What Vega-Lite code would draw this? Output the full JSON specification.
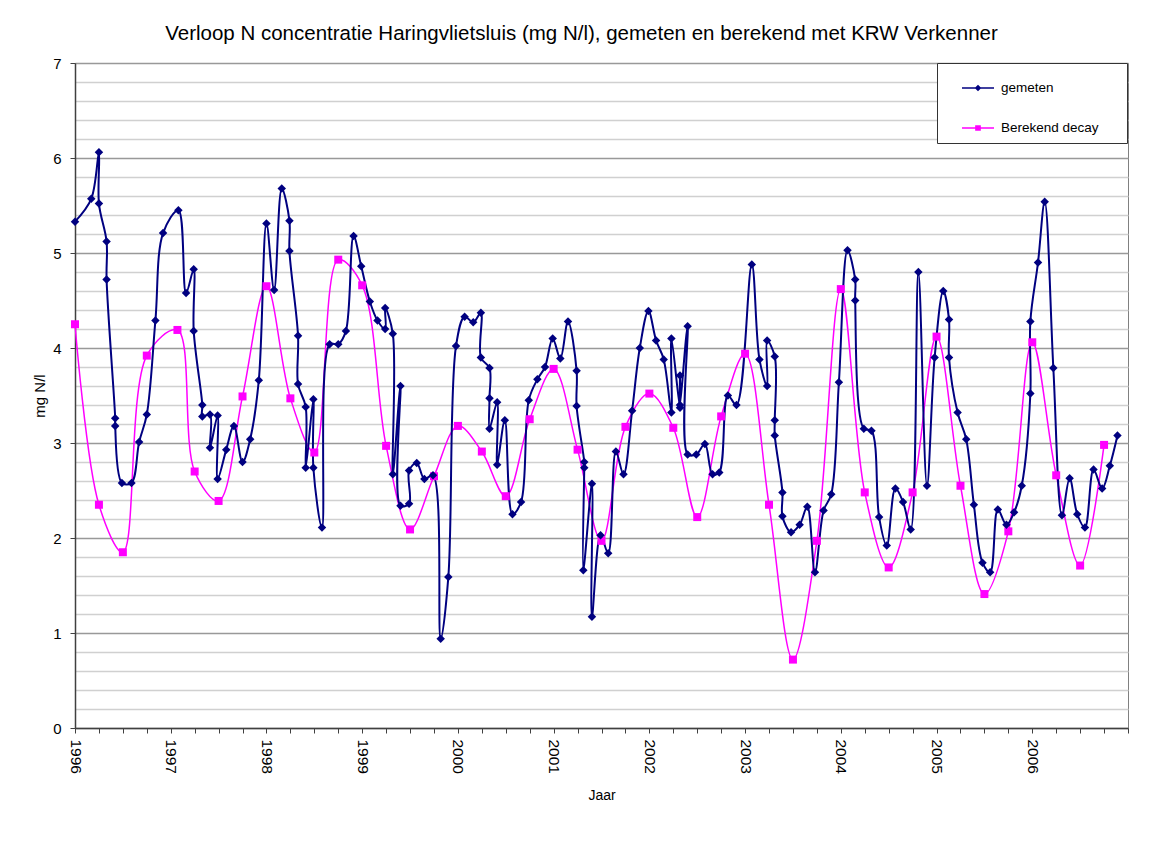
{
  "$schema": "https://vega.github.io/schema/vega-lite/v6.json",
  "width": 1053,
  "height": 665,
  "autosize": "none",
  "padding": {"left": 75, "top": 63, "right": 27, "bottom": 119},
  "background": "white",
  "config": {
    "font": "Liberation Sans",
    "view": {"stroke": "#808080", "strokeWidth": 1}
  },
  "title": {
    "text": "Verloop N concentratie Haringvlietsluis (mg N/l), gemeten en berekend met KRW Verkenner",
    "fontSize": 20.5,
    "fontWeight": "normal",
    "color": "#000000",
    "anchor": "middle",
    "offset": 12,
    "dx": -20
  },
  "data": {
    "values": [
      {"s": "gemeten", "i": 0, "t": 1996.00, "v": 5.33},
      {"s": "gemeten", "i": 1, "t": 1996.17, "v": 5.57},
      {"s": "gemeten", "i": 2, "t": 1996.25, "v": 6.06},
      {"s": "gemeten", "i": 3, "t": 1996.25, "v": 5.52},
      {"s": "gemeten", "i": 4, "t": 1996.33, "v": 5.12},
      {"s": "gemeten", "i": 5, "t": 1996.33, "v": 4.72},
      {"s": "gemeten", "i": 6, "t": 1996.42, "v": 3.26},
      {"s": "gemeten", "i": 7, "t": 1996.42, "v": 3.18},
      {"s": "gemeten", "i": 8, "t": 1996.49, "v": 2.58},
      {"s": "gemeten", "i": 9, "t": 1996.59, "v": 2.58},
      {"s": "gemeten", "i": 10, "t": 1996.67, "v": 3.01},
      {"s": "gemeten", "i": 11, "t": 1996.75, "v": 3.30},
      {"s": "gemeten", "i": 12, "t": 1996.84, "v": 4.29},
      {"s": "gemeten", "i": 13, "t": 1996.92, "v": 5.21},
      {"s": "gemeten", "i": 14, "t": 1997.08, "v": 5.45},
      {"s": "gemeten", "i": 15, "t": 1997.16, "v": 4.58},
      {"s": "gemeten", "i": 16, "t": 1997.24, "v": 4.83},
      {"s": "gemeten", "i": 17, "t": 1997.24, "v": 4.18},
      {"s": "gemeten", "i": 18, "t": 1997.33, "v": 3.40},
      {"s": "gemeten", "i": 19, "t": 1997.33, "v": 3.28},
      {"s": "gemeten", "i": 20, "t": 1997.41, "v": 3.30},
      {"s": "gemeten", "i": 21, "t": 1997.41, "v": 2.95},
      {"s": "gemeten", "i": 22, "t": 1997.49, "v": 3.29},
      {"s": "gemeten", "i": 23, "t": 1997.49, "v": 2.62},
      {"s": "gemeten", "i": 24, "t": 1997.58, "v": 2.93},
      {"s": "gemeten", "i": 25, "t": 1997.66, "v": 3.18},
      {"s": "gemeten", "i": 26, "t": 1997.75, "v": 2.80},
      {"s": "gemeten", "i": 27, "t": 1997.83, "v": 3.04},
      {"s": "gemeten", "i": 28, "t": 1997.92, "v": 3.66},
      {"s": "gemeten", "i": 29, "t": 1998.00, "v": 5.31},
      {"s": "gemeten", "i": 30, "t": 1998.08, "v": 4.61},
      {"s": "gemeten", "i": 31, "t": 1998.16, "v": 5.68},
      {"s": "gemeten", "i": 32, "t": 1998.24, "v": 5.34},
      {"s": "gemeten", "i": 33, "t": 1998.24, "v": 5.02},
      {"s": "gemeten", "i": 34, "t": 1998.33, "v": 4.13},
      {"s": "gemeten", "i": 35, "t": 1998.33, "v": 3.62},
      {"s": "gemeten", "i": 36, "t": 1998.41, "v": 3.38},
      {"s": "gemeten", "i": 37, "t": 1998.41, "v": 2.74},
      {"s": "gemeten", "i": 38, "t": 1998.49, "v": 3.46},
      {"s": "gemeten", "i": 39, "t": 1998.49, "v": 2.74},
      {"s": "gemeten", "i": 40, "t": 1998.58, "v": 2.11},
      {"s": "gemeten", "i": 41, "t": 1998.66, "v": 4.04},
      {"s": "gemeten", "i": 42, "t": 1998.75, "v": 4.04},
      {"s": "gemeten", "i": 43, "t": 1998.83, "v": 4.18},
      {"s": "gemeten", "i": 44, "t": 1998.91, "v": 5.18},
      {"s": "gemeten", "i": 45, "t": 1998.99, "v": 4.86},
      {"s": "gemeten", "i": 46, "t": 1999.08, "v": 4.49},
      {"s": "gemeten", "i": 47, "t": 1999.16, "v": 4.29},
      {"s": "gemeten", "i": 48, "t": 1999.24, "v": 4.20},
      {"s": "gemeten", "i": 49, "t": 1999.24, "v": 4.42},
      {"s": "gemeten", "i": 50, "t": 1999.32, "v": 4.15},
      {"s": "gemeten", "i": 51, "t": 1999.32, "v": 2.67},
      {"s": "gemeten", "i": 52, "t": 1999.40, "v": 3.60},
      {"s": "gemeten", "i": 53, "t": 1999.40, "v": 2.34},
      {"s": "gemeten", "i": 54, "t": 1999.49, "v": 2.36},
      {"s": "gemeten", "i": 55, "t": 1999.49, "v": 2.71},
      {"s": "gemeten", "i": 56, "t": 1999.57, "v": 2.79},
      {"s": "gemeten", "i": 57, "t": 1999.65, "v": 2.62},
      {"s": "gemeten", "i": 58, "t": 1999.74, "v": 2.66},
      {"s": "gemeten", "i": 59, "t": 1999.82, "v": 0.94},
      {"s": "gemeten", "i": 60, "t": 1999.90, "v": 1.59},
      {"s": "gemeten", "i": 61, "t": 1999.98, "v": 4.02},
      {"s": "gemeten", "i": 62, "t": 2000.07, "v": 4.33},
      {"s": "gemeten", "i": 63, "t": 2000.16, "v": 4.27},
      {"s": "gemeten", "i": 64, "t": 2000.24, "v": 4.37},
      {"s": "gemeten", "i": 65, "t": 2000.24, "v": 3.90},
      {"s": "gemeten", "i": 66, "t": 2000.33, "v": 3.79},
      {"s": "gemeten", "i": 67, "t": 2000.33, "v": 3.47},
      {"s": "gemeten", "i": 68, "t": 2000.33, "v": 3.15},
      {"s": "gemeten", "i": 69, "t": 2000.41, "v": 3.43},
      {"s": "gemeten", "i": 70, "t": 2000.41, "v": 2.77},
      {"s": "gemeten", "i": 71, "t": 2000.49, "v": 3.24},
      {"s": "gemeten", "i": 72, "t": 2000.57, "v": 2.25},
      {"s": "gemeten", "i": 73, "t": 2000.66, "v": 2.38},
      {"s": "gemeten", "i": 74, "t": 2000.74, "v": 3.45},
      {"s": "gemeten", "i": 75, "t": 2000.83, "v": 3.67},
      {"s": "gemeten", "i": 76, "t": 2000.91, "v": 3.80},
      {"s": "gemeten", "i": 77, "t": 2000.99, "v": 4.10},
      {"s": "gemeten", "i": 78, "t": 2001.07, "v": 3.89},
      {"s": "gemeten", "i": 79, "t": 2001.15, "v": 4.28},
      {"s": "gemeten", "i": 80, "t": 2001.24, "v": 3.76},
      {"s": "gemeten", "i": 81, "t": 2001.24, "v": 3.39},
      {"s": "gemeten", "i": 82, "t": 2001.32, "v": 2.80},
      {"s": "gemeten", "i": 83, "t": 2001.32, "v": 2.74},
      {"s": "gemeten", "i": 84, "t": 2001.31, "v": 1.66},
      {"s": "gemeten", "i": 85, "t": 2001.40, "v": 2.57},
      {"s": "gemeten", "i": 86, "t": 2001.40, "v": 1.17},
      {"s": "gemeten", "i": 87, "t": 2001.49, "v": 2.03},
      {"s": "gemeten", "i": 88, "t": 2001.57, "v": 1.84},
      {"s": "gemeten", "i": 89, "t": 2001.65, "v": 2.91},
      {"s": "gemeten", "i": 90, "t": 2001.73, "v": 2.67},
      {"s": "gemeten", "i": 91, "t": 2001.82, "v": 3.34},
      {"s": "gemeten", "i": 92, "t": 2001.90, "v": 4.00},
      {"s": "gemeten", "i": 93, "t": 2001.99, "v": 4.39},
      {"s": "gemeten", "i": 94, "t": 2002.07, "v": 4.08},
      {"s": "gemeten", "i": 95, "t": 2002.15, "v": 3.88},
      {"s": "gemeten", "i": 96, "t": 2002.23, "v": 3.32},
      {"s": "gemeten", "i": 97, "t": 2002.23, "v": 4.10},
      {"s": "gemeten", "i": 98, "t": 2002.32, "v": 3.37},
      {"s": "gemeten", "i": 99, "t": 2002.32, "v": 3.71},
      {"s": "gemeten", "i": 100, "t": 2002.32, "v": 3.40},
      {"s": "gemeten", "i": 101, "t": 2002.40, "v": 4.23},
      {"s": "gemeten", "i": 102, "t": 2002.40, "v": 2.88},
      {"s": "gemeten", "i": 103, "t": 2002.49, "v": 2.88},
      {"s": "gemeten", "i": 104, "t": 2002.58, "v": 2.99},
      {"s": "gemeten", "i": 105, "t": 2002.66, "v": 2.67},
      {"s": "gemeten", "i": 106, "t": 2002.73, "v": 2.69},
      {"s": "gemeten", "i": 107, "t": 2002.82, "v": 3.50},
      {"s": "gemeten", "i": 108, "t": 2002.91, "v": 3.40},
      {"s": "gemeten", "i": 109, "t": 2003.07, "v": 4.88},
      {"s": "gemeten", "i": 110, "t": 2003.15, "v": 3.88},
      {"s": "gemeten", "i": 111, "t": 2003.23, "v": 3.60},
      {"s": "gemeten", "i": 112, "t": 2003.23, "v": 4.08},
      {"s": "gemeten", "i": 113, "t": 2003.31, "v": 3.91},
      {"s": "gemeten", "i": 114, "t": 2003.31, "v": 3.24},
      {"s": "gemeten", "i": 115, "t": 2003.31, "v": 3.08},
      {"s": "gemeten", "i": 116, "t": 2003.39, "v": 2.48},
      {"s": "gemeten", "i": 117, "t": 2003.39, "v": 2.23},
      {"s": "gemeten", "i": 118, "t": 2003.48, "v": 2.06},
      {"s": "gemeten", "i": 119, "t": 2003.57, "v": 2.14},
      {"s": "gemeten", "i": 120, "t": 2003.65, "v": 2.33},
      {"s": "gemeten", "i": 121, "t": 2003.73, "v": 1.64},
      {"s": "gemeten", "i": 122, "t": 2003.82, "v": 2.29},
      {"s": "gemeten", "i": 123, "t": 2003.90, "v": 2.46},
      {"s": "gemeten", "i": 124, "t": 2003.98, "v": 3.64},
      {"s": "gemeten", "i": 125, "t": 2004.07, "v": 5.03},
      {"s": "gemeten", "i": 126, "t": 2004.15, "v": 4.72},
      {"s": "gemeten", "i": 127, "t": 2004.15, "v": 4.50},
      {"s": "gemeten", "i": 128, "t": 2004.24, "v": 3.15},
      {"s": "gemeten", "i": 129, "t": 2004.32, "v": 3.13},
      {"s": "gemeten", "i": 130, "t": 2004.40, "v": 2.22},
      {"s": "gemeten", "i": 131, "t": 2004.48, "v": 1.92},
      {"s": "gemeten", "i": 132, "t": 2004.57, "v": 2.52},
      {"s": "gemeten", "i": 133, "t": 2004.65, "v": 2.38},
      {"s": "gemeten", "i": 134, "t": 2004.73, "v": 2.09},
      {"s": "gemeten", "i": 135, "t": 2004.81, "v": 4.80},
      {"s": "gemeten", "i": 136, "t": 2004.90, "v": 2.55},
      {"s": "gemeten", "i": 137, "t": 2004.98, "v": 3.90},
      {"s": "gemeten", "i": 138, "t": 2005.07, "v": 4.60},
      {"s": "gemeten", "i": 139, "t": 2005.13, "v": 4.30},
      {"s": "gemeten", "i": 140, "t": 2005.13, "v": 3.90},
      {"s": "gemeten", "i": 141, "t": 2005.22, "v": 3.32},
      {"s": "gemeten", "i": 142, "t": 2005.31, "v": 3.04},
      {"s": "gemeten", "i": 143, "t": 2005.39, "v": 2.35},
      {"s": "gemeten", "i": 144, "t": 2005.48, "v": 1.74},
      {"s": "gemeten", "i": 145, "t": 2005.56, "v": 1.64},
      {"s": "gemeten", "i": 146, "t": 2005.64, "v": 2.30},
      {"s": "gemeten", "i": 147, "t": 2005.73, "v": 2.14},
      {"s": "gemeten", "i": 148, "t": 2005.81, "v": 2.27},
      {"s": "gemeten", "i": 149, "t": 2005.89, "v": 2.55},
      {"s": "gemeten", "i": 150, "t": 2005.98, "v": 3.52},
      {"s": "gemeten", "i": 151, "t": 2005.98, "v": 4.28},
      {"s": "gemeten", "i": 152, "t": 2006.06, "v": 4.90},
      {"s": "gemeten", "i": 153, "t": 2006.13, "v": 5.54},
      {"s": "gemeten", "i": 154, "t": 2006.22, "v": 3.79},
      {"s": "gemeten", "i": 155, "t": 2006.31, "v": 2.24},
      {"s": "gemeten", "i": 156, "t": 2006.39, "v": 2.63},
      {"s": "gemeten", "i": 157, "t": 2006.47, "v": 2.25},
      {"s": "gemeten", "i": 158, "t": 2006.55, "v": 2.11},
      {"s": "gemeten", "i": 159, "t": 2006.64, "v": 2.72},
      {"s": "gemeten", "i": 160, "t": 2006.73, "v": 2.52},
      {"s": "gemeten", "i": 161, "t": 2006.81, "v": 2.76},
      {"s": "gemeten", "i": 162, "t": 2006.89, "v": 3.08},
      {"s": "Berekend decay", "i": 0, "t": 1996.00, "v": 4.25},
      {"s": "Berekend decay", "i": 1, "t": 1996.25, "v": 2.35},
      {"s": "Berekend decay", "i": 2, "t": 1996.50, "v": 1.85},
      {"s": "Berekend decay", "i": 3, "t": 1996.75, "v": 3.92},
      {"s": "Berekend decay", "i": 4, "t": 1997.07, "v": 4.19},
      {"s": "Berekend decay", "i": 5, "t": 1997.25, "v": 2.70},
      {"s": "Berekend decay", "i": 6, "t": 1997.50, "v": 2.39},
      {"s": "Berekend decay", "i": 7, "t": 1997.75, "v": 3.49},
      {"s": "Berekend decay", "i": 8, "t": 1998.00, "v": 4.65},
      {"s": "Berekend decay", "i": 9, "t": 1998.25, "v": 3.47},
      {"s": "Berekend decay", "i": 10, "t": 1998.50, "v": 2.90},
      {"s": "Berekend decay", "i": 11, "t": 1998.75, "v": 4.93},
      {"s": "Berekend decay", "i": 12, "t": 1999.00, "v": 4.66},
      {"s": "Berekend decay", "i": 13, "t": 1999.25, "v": 2.97},
      {"s": "Berekend decay", "i": 14, "t": 1999.50, "v": 2.09},
      {"s": "Berekend decay", "i": 15, "t": 1999.75, "v": 2.65},
      {"s": "Berekend decay", "i": 16, "t": 2000.00, "v": 3.18},
      {"s": "Berekend decay", "i": 17, "t": 2000.25, "v": 2.91},
      {"s": "Berekend decay", "i": 18, "t": 2000.50, "v": 2.44},
      {"s": "Berekend decay", "i": 19, "t": 2000.75, "v": 3.25},
      {"s": "Berekend decay", "i": 20, "t": 2001.00, "v": 3.78},
      {"s": "Berekend decay", "i": 21, "t": 2001.25, "v": 2.93},
      {"s": "Berekend decay", "i": 22, "t": 2001.50, "v": 1.97},
      {"s": "Berekend decay", "i": 23, "t": 2001.75, "v": 3.17},
      {"s": "Berekend decay", "i": 24, "t": 2002.00, "v": 3.52},
      {"s": "Berekend decay", "i": 25, "t": 2002.25, "v": 3.16},
      {"s": "Berekend decay", "i": 26, "t": 2002.50, "v": 2.22},
      {"s": "Berekend decay", "i": 27, "t": 2002.75, "v": 3.28},
      {"s": "Berekend decay", "i": 28, "t": 2003.00, "v": 3.94},
      {"s": "Berekend decay", "i": 29, "t": 2003.25, "v": 2.35},
      {"s": "Berekend decay", "i": 30, "t": 2003.50, "v": 0.72},
      {"s": "Berekend decay", "i": 31, "t": 2003.75, "v": 1.97},
      {"s": "Berekend decay", "i": 32, "t": 2004.00, "v": 4.62},
      {"s": "Berekend decay", "i": 33, "t": 2004.25, "v": 2.48},
      {"s": "Berekend decay", "i": 34, "t": 2004.50, "v": 1.69},
      {"s": "Berekend decay", "i": 35, "t": 2004.75, "v": 2.48},
      {"s": "Berekend decay", "i": 36, "t": 2005.00, "v": 4.12},
      {"s": "Berekend decay", "i": 37, "t": 2005.25, "v": 2.55},
      {"s": "Berekend decay", "i": 38, "t": 2005.50, "v": 1.41},
      {"s": "Berekend decay", "i": 39, "t": 2005.75, "v": 2.07},
      {"s": "Berekend decay", "i": 40, "t": 2006.00, "v": 4.06},
      {"s": "Berekend decay", "i": 41, "t": 2006.25, "v": 2.66},
      {"s": "Berekend decay", "i": 42, "t": 2006.50, "v": 1.71},
      {"s": "Berekend decay", "i": 43, "t": 2006.75, "v": 2.98}
    ]
  },
  "encoding": {
    "x": {
      "field": "t",
      "type": "quantitative",
      "scale": {"domain": [1996, 2007], "nice": false, "zero": false},
      "axis": {
        "title": "Jaar",
        "titleFontSize": 14,
        "titleFontWeight": "normal",
        "titleColor": "#000000",
        "titlePadding": 15,
        "values": [1996, 1996.25, 1996.5, 1996.75, 1997, 1997.25, 1997.5, 1997.75, 1998, 1998.25, 1998.5, 1998.75, 1999, 1999.25, 1999.5, 1999.75, 2000, 2000.25, 2000.5, 2000.75, 2001, 2001.25, 2001.5, 2001.75, 2002, 2002.25, 2002.5, 2002.75, 2003, 2003.25, 2003.5, 2003.75, 2004, 2004.25, 2004.5, 2004.75, 2005, 2005.25, 2005.5, 2005.75, 2006, 2006.25, 2006.5, 2006.75, 2007],
        "labelExpr": "(datum.value % 1 === 0 && datum.value < 2007) ? format(datum.value, 'd') : ''",
        "labelAngle": 90,
        "labelAlign": "left",
        "labelBaseline": "middle",
        "labelFontSize": 15.5,
        "labelColor": "#000000",
        "labelPadding": 6,
        "labelOverlap": false,
        "labelFlush": false,
        "grid": false,
        "domainColor": "#404040",
        "domainWidth": 1.5,
        "tickColor": "#404040",
        "tickSize": 5
      }
    },
    "y": {
      "field": "v",
      "type": "quantitative",
      "scale": {"domain": [0, 7], "nice": false},
      "axis": {
        "title": "mg N/l",
        "titleFontSize": 15,
        "titleFontWeight": "normal",
        "titleColor": "#000000",
        "titlePadding": 5,
        "values": [0, 0.2, 0.4, 0.6, 0.8, 1, 1.2, 1.4, 1.6, 1.8, 2, 2.2, 2.4, 2.6, 2.8, 3, 3.2, 3.4, 3.6, 3.8, 4, 4.2, 4.4, 4.6, 4.8, 5, 5.2, 5.4, 5.6, 5.8, 6, 6.2, 6.4, 6.6, 6.8, 7],
        "labelExpr": "datum.value % 1 === 0 ? format(datum.value, 'd') : ''",
        "labelFontSize": 15,
        "labelColor": "#000000",
        "labelPadding": 9,
        "labelOverlap": false,
        "labelFlush": false,
        "grid": true,
        "gridColor": {"condition": {"test": "datum.value % 1 === 0", "value": "#999999"}, "value": "#d0d0d0"},
        "gridWidth": 1.3,
        "domainColor": "#404040",
        "domainWidth": 1.5,
        "tickColor": "#404040",
        "tickOpacity": {"condition": {"test": "datum.value % 1 === 0", "value": 1}, "value": 0},
        "tickSize": 5
      }
    },
    "color": {
      "field": "s",
      "type": "nominal",
      "scale": {"domain": ["gemeten", "Berekend decay"], "range": ["#000080", "#FF00FF"]},
      "legend": {
        "title": null,
        "orient": "none",
        "legendX": 862,
        "legendY": 0,
        "padding": 8,
        "symbolOffset": 16,
        "rowPadding": 16,
        "symbolSize": 1024,
        "symbolType": "M-1,0L1,0M0,-0.14L0.14,0L0,0.14L-0.14,0Z",
        "symbolStrokeWidth": 1.5,
        "labelFontSize": 13.5,
        "labelColor": "#000000",
        "labelOffset": 6,
        "strokeColor": "#333333",
        "fillColor": "#ffffff",
        "labelExpr": "datum.label + '\u2800\u2800'",
        "encode": {
          "symbols": {
            "update": {
              "shape": {"signal": "datum.value === 'gemeten' ? 'M-1,0L1,0M0,-0.14L0.14,0L0,0.14L-0.14,0Z' : 'M-1,0L1,0M-0.13,-0.13L0.13,-0.13L0.13,0.13L-0.13,0.13Z'"},
              "size": {"value": 1024},
              "fill": {"signal": "datum.value === 'gemeten' ? '#000080' : '#FF00FF'"},
              "stroke": {"signal": "datum.value === 'gemeten' ? '#000080' : '#FF00FF'"},
              "strokeWidth": {"value": 1.5},
              "opacity": {"value": 1},
              "fillOpacity": {"value": 1},
              "strokeOpacity": {"value": 1}
            }
          }
        }
      }
    },
    "order": {"field": "i", "type": "quantitative"}
  },
  "layer": [
    {
      "transform": [{"filter": "datum.s === 'Berekend decay'"}],
      "mark": {"type": "line", "interpolate": "catmull-rom", "strokeWidth": 1.5}
    },
    {
      "transform": [{"filter": "datum.s === 'gemeten'"}],
      "mark": {"type": "line", "interpolate": "catmull-rom", "strokeWidth": 2}
    },
    {
      "transform": [{"filter": "datum.s === 'Berekend decay'"}],
      "mark": {"type": "point", "filled": true, "opacity": 1, "shape": "square", "size": 64}
    },
    {
      "transform": [{"filter": "datum.s === 'gemeten'"}],
      "mark": {"type": "point", "filled": true, "opacity": 1, "shape": "diamond", "size": 72}
    }
  ]
}
